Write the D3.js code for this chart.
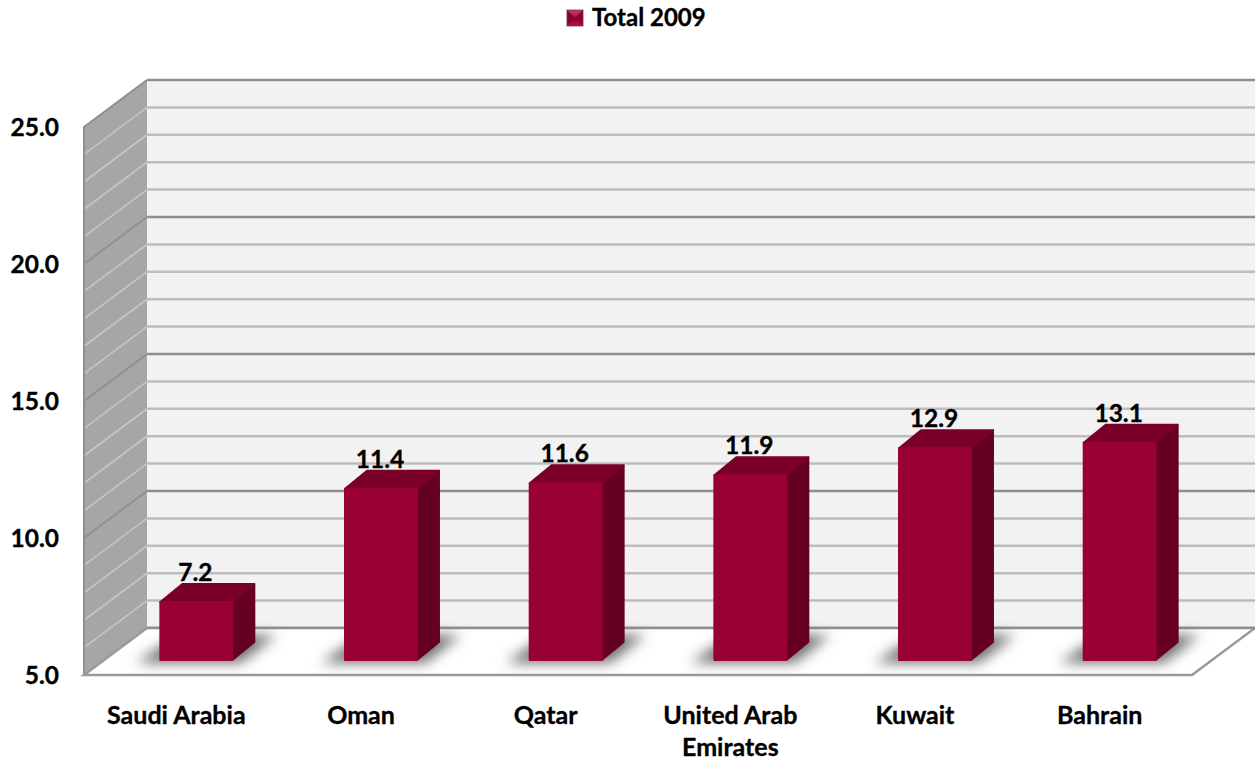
<!DOCTYPE html>
<html>
<head>
<meta charset="utf-8">
<script src="https://cdnjs.cloudflare.com/ajax/libs/d3/7.8.5/d3.min.js"></script>
<style>
  html, body { margin: 0; padding: 0; background: #fff; }
  svg { display: block; }
  text { font-family: Lato, "Open Sans", sans-serif; font-weight: 700; fill: #000; stroke: #000; stroke-width: 0.35px; }
</style>
</head>
<body>
<svg id="chart" width="1255" height="763"></svg>
<script>
const categories = ["Saudi Arabia", "Oman", "Qatar", "United Arab Emirates", "Kuwait", "Bahrain"];
const totals2009 = [7.2, 11.4, 11.6, 11.9, 12.9, 13.1];
const seriesName = "Total 2009";
const valueTicks = [5, 10, 15, 20, 25];
const gridValues = d3.range(5, 26);

const width = 1255, height = 763;
const frontLeft = 84, frontRight = 1192, frontBase = 675, frontTop = 127;
const depthX = 63, depthY = 47;        // shift from the front of the floor to the back wall
const barDepthX = 22, barDepthY = 18;  // depth of each column
const barLift = 20, barBase = 660;     // where the columns stand on the floor

const svg = d3.select("#chart");

const y = d3.scaleLinear().domain([5, 25]).range([frontBase, frontTop]);
const yBar = d3.scaleLinear().domain([5, 25]).range([barBase + 1.5, 121.5]);
const x = d3.scaleBand().domain(categories).range([frontLeft, frontRight]).paddingInner(0.605).paddingOuter(0.3025);

const defs = svg.append("defs");
defs.append("filter").attr("id", "soft")
  .attr("x", "-30%").attr("y", "-60%").attr("width", "160%").attr("height", "220%")
  .append("feGaussianBlur").attr("stdDeviation", 6.5);

const legendFill = (id, a, b) => {
  const g = defs.append("linearGradient").attr("id", id).attr("x1", 0).attr("y1", 0).attr("x2", 0).attr("y2", 1);
  g.append("stop").attr("offset", 0).attr("stop-color", a);
  g.append("stop").attr("offset", 1).attr("stop-color", b);
};
legendFill("bevelTop", "#c2406c", "#a80f42");
legendFill("bevelBottom", "#8a002e", "#b0134a");

const poly = pts => pts.map(p => p.join(",")).join(" ");

// Walls and floor
const walls = svg.append("g");
walls.append("polygon")
  .attr("points", poly([[frontLeft + depthX, y(25) - depthY], [width, y(25) - depthY], [width, y(5) - depthY], [frontLeft + depthX, y(5) - depthY]]))
  .attr("fill", "#f2f2f2");
walls.append("polygon")
  .attr("points", poly([[frontLeft, y(25)], [frontLeft + depthX, y(25) - depthY], [frontLeft + depthX, y(5) - depthY], [frontLeft, y(5)]]))
  .attr("fill", "#a6a6a6");

// Gridlines run across the back wall and down the side wall
const isMajor = v => v % 5 === 0;
const gridColor = v => isMajor(v) ? "#8f8f8f" : "#bdbdbd";

walls.selectAll("line.back").data(gridValues).join("line")
  .attr("class", "back")
  .attr("x1", frontLeft + depthX).attr("x2", width)
  .attr("y1", v => y(v) - depthY).attr("y2", v => y(v) - depthY)
  .attr("stroke", gridColor).attr("stroke-width", 2.5);

walls.selectAll("line.side").data(gridValues.filter(v => v > 5 && v < 25)).join("line")
  .attr("class", "side")
  .attr("x1", frontLeft).attr("x2", frontLeft + depthX)
  .attr("y1", v => y(v)).attr("y2", v => y(v) - depthY)
  .attr("stroke", v => isMajor(v) ? "#8f8f8f" : "#c4c4c4").attr("stroke-width", 1.8);

// Outline of the side wall and the floor
walls.append("polyline")
  .attr("points", poly([[frontLeft + depthX, y(25) - depthY], [frontLeft, y(25)], [frontLeft, y(5)]]))
  .attr("fill", "none").attr("stroke", "#8f8f8f").attr("stroke-width", 2);
walls.append("polygon")
  .attr("points", poly([[frontLeft, y(5)], [frontRight, y(5)], [width, y(5) - depthY], [frontLeft + depthX, y(5) - depthY]]))
  .attr("fill", "#fff");
walls.append("polyline")
  .attr("points", poly([[frontLeft + depthX, y(5) - depthY], [frontLeft, y(5)], [frontRight, y(5)], [width, y(5) - depthY]]))
  .attr("fill", "none").attr("stroke", "#9a9a9a").attr("stroke-width", 2.5);
walls.append("line")
  .attr("x1", frontLeft + depthX).attr("x2", width)
  .attr("y1", y(5) - depthY).attr("y2", y(5) - depthY)
  .attr("stroke", "#8f8f8f").attr("stroke-width", 2.5);

// Columns
const rows = categories.map((name, i) => ({ name, value: totals2009[i] }));
const bars = svg.append("g").selectAll("g").data(rows).join("g");
const left = d => x(d.name) + barLift + 0.5;
const right = d => left(d) + x.bandwidth() - 1;

bars.append("polygon")
  .attr("points", d => poly([
    [left(d) - 24, barBase + 3],
    [right(d) + 8, barBase + 3],
    [right(d) + barDepthX + 22, barBase - barDepthY - 7],
    [right(d) + 4, barBase - barDepthY - 7],
    [left(d) + 4, barBase - 16]
  ]))
  .attr("fill", "#707070").attr("filter", "url(#soft)");

const face = (sel, pts, color) => sel.append("polygon")
  .attr("points", pts)
  .attr("fill", color).attr("stroke", color).attr("stroke-width", 2).attr("stroke-linejoin", "round");

face(bars, d => poly([
  [right(d), yBar(d.value)], [right(d) + barDepthX, yBar(d.value) - barDepthY],
  [right(d) + barDepthX, barBase - barDepthY], [right(d), barBase]
]), "#650023");
face(bars, d => poly([
  [left(d), yBar(d.value)], [left(d) + barDepthX, yBar(d.value) - barDepthY],
  [right(d) + barDepthX, yBar(d.value) - barDepthY], [right(d), yBar(d.value)]
]), "#7b0029");
face(bars, d => poly([
  [left(d), yBar(d.value)], [right(d), yBar(d.value)], [right(d), barBase], [left(d), barBase]
]), "#990033");

// Value labels above the columns
bars.append("text")
  .attr("x", d => (left(d) + right(d)) / 2 - 1)
  .attr("y", d => yBar(d.value) - barDepthY - 3)
  .attr("text-anchor", "middle")
  .attr("font-size", 24.5)
  .text(d => d.value.toFixed(1));

// Value axis
const yAxis = d3.axisLeft(y).tickValues(valueTicks).tickFormat(d3.format(".1f")).tickSize(0).tickPadding(0);
const yAxisG = svg.append("g").attr("transform", "translate(59,1)").call(yAxis);
yAxisG.select(".domain").remove();
yAxisG.selectAll("text").attr("font-size", 24.5).attr("fill", null);
yAxisG.attr("font-family", null).attr("font-size", null);

// Category axis, with the long name broken over two lines
const xAxis = d3.axisBottom(x).tickSize(0).tickPadding(0);
const xAxisG = svg.append("g").attr("transform", "translate(0,702)").call(xAxis);
xAxisG.select(".domain").remove();
xAxisG.attr("font-family", null).attr("font-size", null);
xAxisG.selectAll("text")
  .attr("font-size", 25).attr("fill", null).attr("y", 0).attr("dy", null)
  .each(function (d) {
    const t = d3.select(this).text("");
    const lines = d === "United Arab Emirates" ? ["United Arab", "Emirates"] : [d];
    lines.forEach((line, i) => {
      t.append("tspan").attr("x", 0).attr("y", 22 + i * 32).text(line);
    });
  });

// Legend
const legend = svg.append("g").attr("transform", "translate(567,10)");
const m = 16, c = m / 2;
legend.append("rect").attr("width", m).attr("height", m).attr("fill", "#a3083c");
legend.append("polygon").attr("points", poly([[0, 0], [m, 0], [c, c]])).attr("fill", "url(#bevelTop)");
legend.append("polygon").attr("points", poly([[0, 0], [c, c], [0, m]])).attr("fill", "#8c0030");
legend.append("polygon").attr("points", poly([[m, 0], [c, c], [m, m]])).attr("fill", "#8c0030");
legend.append("polygon").attr("points", poly([[0, m], [c, c], [m, m]])).attr("fill", "url(#bevelBottom)");
legend.append("rect").attr("width", m).attr("height", m).attr("fill", "none").attr("stroke", "#7b2a48").attr("stroke-width", 0.8);
svg.append("text").attr("x", 592).attr("y", 26).attr("font-size", 24).text(seriesName);
</script>
</body>
</html>
